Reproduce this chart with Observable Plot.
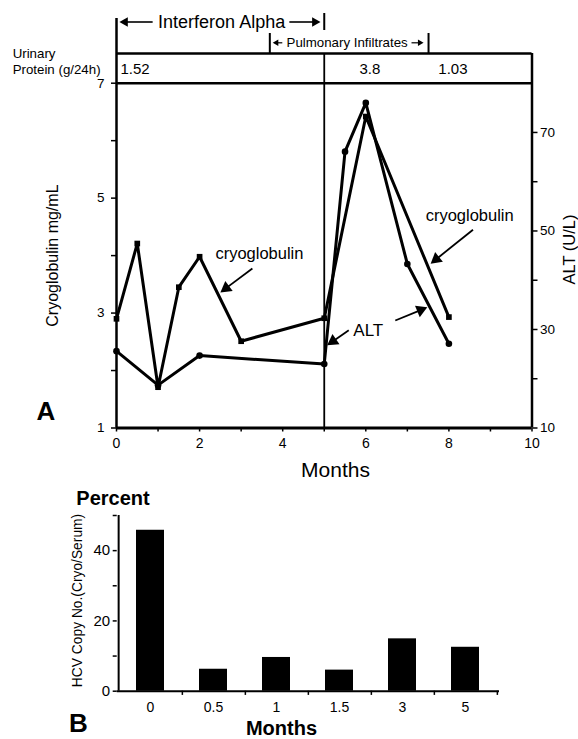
<!DOCTYPE html>
<html><head><meta charset="utf-8">
<script src="https://cdn.jsdelivr.net/npm/d3@7"></script>
<script src="https://cdn.jsdelivr.net/npm/@observablehq/plot@0.6"></script>
<style>
body{margin:0;background:#fff;}
#wrap{position:relative;width:578px;height:739px;background:#fff;overflow:hidden;}
#wrap svg{position:absolute;left:0;overflow:visible;}
</style></head><body><div id="wrap"></div>
<script>
// ---- Data ----
const cryoMonths = [0, 0.5, 1, 1.5, 2, 3, 5, 6, 8];
const cryoValues = [2.9, 4.21, 1.71, 3.45, 3.98, 2.51, 2.91, 6.42, 2.93];   // mg/mL
const altMonths = [0, 1, 2, 5, 5.5, 6, 7, 8];
const altValues = [25.6, 18.7, 24.7, 23.0, 66.1, 76.0, 43.3, 27.1];         // U/L
const proteinMonths = [0, 6, 8];
const proteinValues = ["1.52", "3.8", "1.03"];                               // g/24h
const interferonPeriod = [0, 5];
const pulmonaryPeriod = [3.69, 7.51];
const leftTicks = [1, 2, 3, 4, 5, 6, 7];
const rightTicks = [10, 20, 30, 40, 50, 60, 70];
const monthTicks = [0, 1, 2, 3, 4, 5, 6, 7, 8, 9, 10];
const hcvMonths = ["0", "0.5", "1", "1.5", "3", "5"];
const hcvPercent = [45.8, 6.25, 9.6, 6.0, 14.9, 12.5];
const hcvTicks = [0, 10, 20, 30, 40, 50];

const FONT = '"Liberation Sans", Arial, Helvetica, sans-serif';
const wrap = document.getElementById("wrap");

// ---- Panel A layout ----
const A = {width: 578, height: 480, mt: 82.7, mr: 46.5, mb: 52.5, ml: 116};
const kx = (A.width - A.ml - A.mr) / 10;
const ky = (A.height - A.mt - A.mb) / 6;
const styleA = {fontFamily: FONT, background: "transparent", overflow: "visible"};

const cryo = cryoMonths.map((m, i) => ({m, v: cryoValues[i]}));
const alt = altMonths.map((m, i) => ({m, v: altValues[i]}));

function arrows(list, r, sw) {
  const heads = list.map(a => {
    const dxp = (a.x2 - a.x1) * kx, dyp = -(a.y2 - a.y1) * ky;
    const len = Math.hypot(dxp, dyp), ux = dxp / len, uy = dyp / len;
    const back = 1.555 * r;
    return {x: a.x2 - ux * back / kx, y: a.y2 + uy * back / ky,
            angle: Math.atan2(dxp, -dyp) * 180 / Math.PI};
  });
  return [
    Plot.link(list.map((a, i) => ({x1: a.x1, y1: a.y1, x2: heads[i].x, y2: heads[i].y})),
      {x1: "x1", y1: "y1", x2: "x2", y2: "y2", stroke: "black", strokeWidth: sw}),
    Plot.dot(heads, {x: "x", y: "y", rotate: "angle", symbol: "triangle", r, fill: "black"})
  ];
}

const topBox = 7.517, ifY = 8.065, pulY = 7.703;

const plotA1 = Plot.plot({
  width: A.width, height: A.height,
  marginTop: A.mt, marginRight: A.mr, marginBottom: A.mb, marginLeft: A.ml,
  style: styleA,
  x: {domain: [0, 10], axis: null},
  y: {domain: [1, 7], axis: null},
  marks: [
    Plot.axisY({anchor: "left", ticks: leftTicks, tickFormat: d => d % 2 ? String(d) : "",
      tickSize: 5, tickPadding: 7, fontSize: 13.5, strokeWidth: 1.5, label: null}),
    Plot.axisX({anchor: "bottom", ticks: monthTicks, tickFormat: d => d % 2 === 0 ? String(d) : "",
      tickSize: 4, tickPadding: 6, fontSize: 14, strokeWidth: 1.5, label: null}),
    // frame & header box
    Plot.ruleX([interferonPeriod[0]], {y1: 1, y2: 8.126, strokeWidth: 2.5}),
    Plot.ruleX([10], {y1: 1, y2: topBox, strokeWidth: 2.5}),
    Plot.ruleY([7, topBox], {x1: 0, x2: 10, strokeWidth: 2.5}),
    Plot.ruleY([1], {x1: 0, x2: 10, strokeWidth: 3}),
    Plot.ruleX([interferonPeriod[1]], {y1: 1, y2: topBox, strokeWidth: 1.8}),
    Plot.ruleX([interferonPeriod[1]], {y1: 7.917, y2: 8.213, strokeWidth: 2}),
    Plot.ruleX(pulmonaryPeriod, {y1: topBox, y2: 7.865, strokeWidth: 2}),
    Plot.text(["Interferon Alpha"], {x: 2.53, y: ifY, fontSize: 18, textAnchor: "middle"}),
    ...arrows([{x1: 0.87, y1: ifY, x2: interferonPeriod[0] + 0.07, y2: ifY},
               {x1: 4.16, y1: ifY, x2: interferonPeriod[1] - 0.09, y2: ifY}], 3.6, 1.6),
    Plot.text(["Pulmonary Infiltrates"], {x: 5.55, y: pulY, fontSize: 13.3, textAnchor: "middle"}),
    ...arrows([{x1: 3.99, y1: pulY, x2: pulmonaryPeriod[0] + 0.07, y2: pulY},
               {x1: 7.10, y1: pulY, x2: pulmonaryPeriod[1] - 0.12, y2: pulY}], 2.4, 1.2),
    Plot.text(["Urinary\nProtein (g/24h)"], {x: -2.5, y: 7.395, fontSize: 13.3, textAnchor: "start", lineHeight: 1.25}),
    Plot.text(proteinMonths.slice(0, 1), {x: d => d, y: 7.24, text: () => proteinValues[0], fontSize: 15, textAnchor: "start", dx: 4}),
    Plot.text(proteinMonths.slice(1), {x: d => d, y: 7.24, text: (d, i) => proteinValues[i + 1], fontSize: 15, textAnchor: "middle", dx: 4}),
    // cryoglobulin series
    Plot.line(cryo, {x: "m", y: "v", stroke: "black", strokeWidth: 3}),
    Plot.dot(cryo, {x: "m", y: "v", symbol: "square", r: 3.2, fill: "black"}),
    // annotations
    Plot.text(["cryoglobulin"], {x: 2.38, y: 4.04, fontSize: 16.5, textAnchor: "start"}),
    Plot.text(["cryoglobulin"], {x: 7.44, y: 4.70, fontSize: 16.5, textAnchor: "start"}),
    Plot.text(["ALT"], {x: 5.70, y: 2.70, fontSize: 17, textAnchor: "start"}),
    ...arrows([{x1: 3.27, y1: 3.775, x2: 2.50, y2: 3.36},
               {x1: 8.58, y1: 4.45, x2: 7.56, y2: 3.86},
               {x1: 5.59, y1: 2.70, x2: 5.07, y2: 2.44},
               {x1: 6.71, y1: 2.87, x2: 7.48, y2: 3.10}], 4.6, 1.8),
    // axis titles
    Plot.text(["Cryoglobulin mg/mL"], {x: -1.54, y: 4.0, rotate: -90, fontSize: 16}),
    Plot.text(["ALT (U/L)"], {x: 10.90, y: 4.106, rotate: -90, fontSize: 16.5}),
    Plot.text(["Months"], {x: 5.27, y: 0.26, fontSize: 21}),
    Plot.text(["A"], {x: -1.70, y: 1.29, fontSize: 26, fontWeight: "bold"})
  ]
});

const plotA2 = Plot.plot({
  width: A.width, height: A.height,
  marginTop: A.mt, marginRight: A.mr, marginBottom: A.mb, marginLeft: A.ml,
  style: styleA,
  x: {domain: [0, 10], axis: null},
  y: {domain: [10, 80], axis: null},
  marks: [
    Plot.axisY({anchor: "right", ticks: rightTicks, tickFormat: d => [10, 30, 50, 70].includes(d) ? String(d) : "",
      tickSize: 5, tickPadding: 3, fontSize: 13.5, strokeWidth: 1.5, label: null}),
    Plot.line(alt, {x: "m", y: "v", stroke: "black", strokeWidth: 3}),
    Plot.dot(alt, {x: "m", y: "v", symbol: "circle", r: 3.3, fill: "black"})
  ]
});

// ---- Panel B ----
const B = {width: 578, height: 259, mt: 35, mr: 79, mb: 48.3, ml: 116.7};
const stepB = (B.width - B.ml - B.mr) / hcvMonths.length;
const hcv = hcvMonths.map((m, i) => ({m, p: hcvPercent[i]}));

const plotB = Plot.plot({
  width: B.width, height: B.height,
  marginTop: B.mt, marginRight: B.mr, marginBottom: B.mb, marginLeft: B.ml,
  style: {fontFamily: FONT, background: "transparent", overflow: "visible"},
  x: {domain: hcvMonths, paddingInner: 0.56, paddingOuter: 0.28, axis: null},
  y: {domain: [0, 50], axis: null},
  marks: [
    Plot.barY(hcv, {x: "m", y: "p", fill: "black"}),
    Plot.ruleY([0], {strokeWidth: 2}),
    Plot.ruleX(hcvMonths.slice(0, 1), {x: d => d, dx: -stepB / 2, y1: 0, y2: 50, strokeWidth: 2}),
    Plot.ruleX(hcvMonths, {x: d => d, dx: stepB / 2, y1: 0, y2: -1.2, strokeWidth: 1.5}),
    Plot.axisY({anchor: "left", ticks: hcvTicks, tickFormat: d => d % 20 === 0 ? String(d) : "",
      tickSize: 4, tickPadding: 3, fontSize: 15, strokeWidth: 1.5, label: null}),
    Plot.axisX({anchor: "bottom", tickSize: 0, tickPadding: 11, fontSize: 14, label: null}),
    Plot.text(["Percent"], {frameAnchor: "top-left", dx: -4.2, dy: -17, fontSize: 20, fontWeight: "bold", textAnchor: "middle", lineAnchor: "middle"}),
    Plot.text(["HCV Copy No.(Cryo/Serum)"], {frameAnchor: "left", dx: -39.2, dy: -2.85, rotate: -90, fontSize: 13.8, textAnchor: "middle", lineAnchor: "middle"}),
    Plot.text(["Months"], {frameAnchor: "bottom", dx: -26.85, dy: 37.3, fontSize: 20, fontWeight: "bold", textAnchor: "middle", lineAnchor: "middle"}),
    Plot.text(["B"], {frameAnchor: "bottom-left", dx: -38.7, dy: 32.3, fontSize: 26, fontWeight: "bold", textAnchor: "middle", lineAnchor: "middle"})
  ]
});

plotA1.style.top = "0px";
plotA2.style.top = "0px";
plotB.style.top = "480px";
wrap.append(plotA1, plotA2, plotB);
</script>
</body></html>
